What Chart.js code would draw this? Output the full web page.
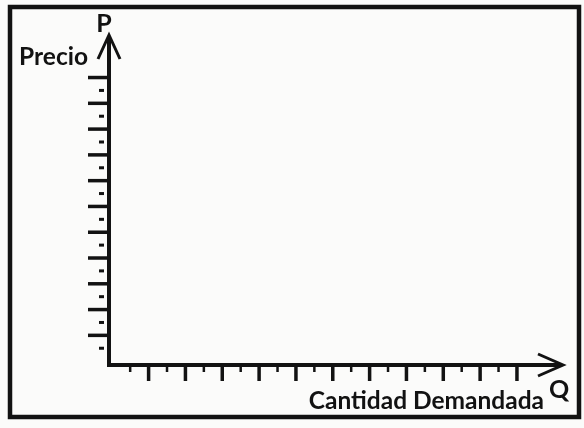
<!DOCTYPE html>
<html>
<head>
<meta charset="utf-8">
<script src="https://cdn.jsdelivr.net/npm/chart.js@4.4.1/dist/chart.umd.min.js"></script>
<style>
  html, body { margin: 0; padding: 0; background: #fbfbfa; }
  #wrap { width: 584px; height: 428px; }
</style>
</head>
<body>
<div id="wrap"><canvas id="demandaChart" width="584" height="428"></canvas></div>
<script>
// ticks along each axis (odd = short, even = long)
const xTicks = [1, 2, 3, 4, 5, 6, 7, 8, 9, 10, 11, 12, 13, 14, 15, 16, 17, 18, 19, 20, 21, 22];
const yTicks = [1, 2, 3, 4, 5, 6, 7, 8, 9, 10, 11, 12, 13, 14, 15, 16, 17, 18, 19, 20, 21, 22];
const xRange = [-0.15, 24.5];
const yRange = [-0.3, 25.3];
const axisNames = { x: 'Q', y: 'P' };
const axisTitles = { x: 'Cantidad Demandada', y: 'Precio' };

const INK = '#121212';
const FONT = 'Lato, "Open Sans", sans-serif';

const axesPlugin = {
    id: 'axesPlugin',
    afterDraw(chart) {
        const ctx = chart.ctx;
        const xs = chart.scales.x;
        const ys = chart.scales.y;
        const area = chart.chartArea;
        const x0 = area.left;
        const y0 = area.bottom;

        ctx.save();
        ctx.strokeStyle = INK;
        ctx.fillStyle = INK;
        ctx.lineCap = 'butt';

        // outer frame
        ctx.lineWidth = 4.5;
        ctx.strokeRect(10, 7, 569, 410);

        // axis lines
        ctx.lineWidth = 4;
        ctx.beginPath();
        ctx.moveTo(x0, area.top + 2);
        ctx.lineTo(x0, y0);
        ctx.lineTo(area.right - 2, y0);
        ctx.stroke();

        // arrow heads
        ctx.lineWidth = 3;
        ctx.lineJoin = 'miter';
        ctx.beginPath();
        ctx.moveTo(x0 - 11, area.top + 24);
        ctx.lineTo(x0, area.top);
        ctx.lineTo(x0 + 11, area.top + 24);
        ctx.stroke();
        ctx.beginPath();
        ctx.moveTo(area.right - 25, y0 - 11);
        ctx.lineTo(area.right, y0);
        ctx.lineTo(area.right - 25, y0 + 11);
        ctx.stroke();

        // x ticks
        xTicks.forEach(v => {
            const px = xs.getPixelForValue(v);
            const major = v % 2 === 0;
            ctx.lineWidth = major ? 3.5 : 2.5;
            ctx.beginPath();
            ctx.moveTo(px, y0 + 1);
            ctx.lineTo(px, y0 + (major ? 16 : 7));
            ctx.stroke();
        });

        // y ticks
        yTicks.forEach(v => {
            const py = ys.getPixelForValue(v);
            const major = v % 2 === 0;
            ctx.lineWidth = major ? 3.5 : 3;
            ctx.beginPath();
            if (major) {
                ctx.moveTo(x0 - 21, py);
                ctx.lineTo(x0 - 1, py);
            } else {
                ctx.moveTo(x0 - 10, py);
                ctx.lineTo(x0 - 5, py);
            }
            ctx.stroke();
        });

        // labels
        ctx.textBaseline = 'alphabetic';
        ctx.font = 'bold 25px ' + FONT;
        ctx.textAlign = 'center';
        ctx.fillText(axisNames.y, x0 - 5, 32);
        ctx.fillText(axisNames.x, area.right - 4, 398);
        ctx.font = 'bold 24.5px ' + FONT;
        ctx.textAlign = 'right';
        ctx.fillText(axisTitles.y, 88, 65);
        ctx.fillText(axisTitles.x, 544, 409);

        ctx.restore();
    }
};

const chart = new Chart(document.getElementById('demandaChart').getContext('2d'), {
    type: 'scatter',
    data: { datasets: [{ data: [], pointRadius: 0 }] },
    options: {
        responsive: false,
        animation: false,
        layout: { padding: { left: 109, right: 21, top: 35, bottom: 63 } },
        plugins: { legend: { display: false }, tooltip: { enabled: false } },
        scales: {
            x: { type: 'linear', display: false, min: xRange[0], max: xRange[1] },
            y: { type: 'linear', display: false, min: yRange[0], max: yRange[1] }
        }
    },
    plugins: [axesPlugin]
});
</script>
</body>
</html>
